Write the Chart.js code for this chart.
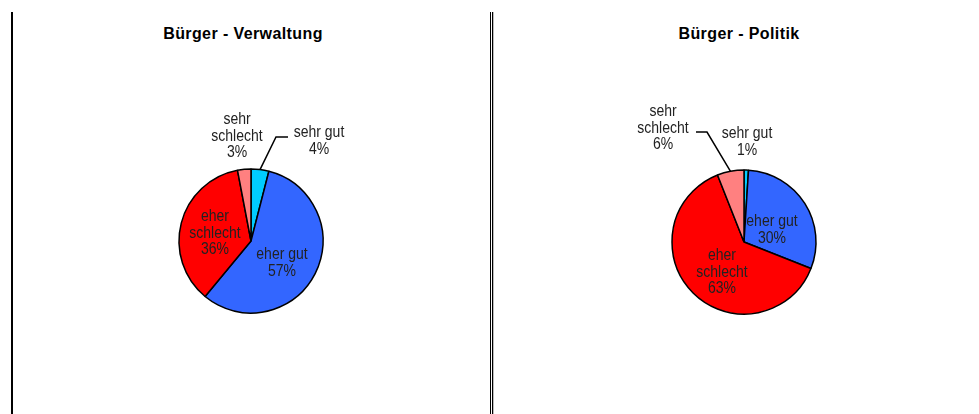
<!DOCTYPE html>
<html>
<head>
<meta charset="utf-8">
<script src="https://cdn.jsdelivr.net/npm/chart.js@4"></script>
<style>
  html, body { margin: 0; padding: 0; background: #fff; }
  #page { position: relative; width: 979px; height: 414px; overflow: hidden; }
  canvas { position: absolute; top: 0; }
  .rule { position: absolute; top: 12px; bottom: 0; background: #000; }
  .title {
    position: absolute; top: 26px; width: 300px; margin-left: -150px;
    text-align: center; font: bold 16px "Liberation Sans", Arial, sans-serif;
    line-height: 16px; letter-spacing: 0.4px; color: #000;
  }
</style>
</head>
<body>
<div id="page">
  <div class="rule" style="left:11px;width:2px"></div>
  <div class="rule" style="left:490px;width:1px"></div>
  <div class="rule" style="left:492px;width:1px"></div>
  <div class="rule" style="left:493px;width:1px;background:#bbb"></div>

  <div class="title" style="left:243px">Bürger - Verwaltung</div>
  <div class="title" style="left:739px">Bürger - Politik</div>

  <canvas id="verwaltung" width="474" height="414" style="left:14px"></canvas>
  <canvas id="politik" width="485" height="414" style="left:494px"></canvas>
</div>

<script>
// answer categories, each split into the lines shown on the label
const categories = [['sehr gut'], ['eher gut'], ['eher', 'schlecht'], ['sehr', 'schlecht']];
const verwaltungValues = [4, 57, 36, 3];
const politikValues = [1, 30, 63, 6];
const sliceColors = ['#00CCFF', '#3366FF', '#FF0000', '#FF8080'];

// where each label sits, relative to the pie centre; leader = [elbow, end]
const verwaltungLabels = [
  { dx: 68, dy: -100, leader: [[25, -104], [37, -104]] },
  { dx: 31, dy: 22 },
  { dx: -36, dy: -8 },
  { dx: -14, dy: -105 }
];
const politikLabels = [
  { dx: 3, dy: -100 },
  { dx: 28, dy: -12 },
  { dx: -22, dy: 30 },
  { dx: -81, dy: -114, leader: [[-37, -110], [-48, -110]] }
];

// draws the "name / value%" text for each slice plus optional leader lines
const sliceLabels = {
  id: 'sliceLabels',
  afterDatasetsDraw(chart, args, opts) {
    const ctx = chart.ctx;
    const meta = chart.getDatasetMeta(0);
    const values = chart.data.datasets[0].data;
    const lineH = 16.5;
    ctx.save();
    meta.data.forEach((arc, i) => {
      const spec = opts.layout[i];
      const cx = arc.x + spec.dx;
      const cy = arc.y + spec.dy;

      if (spec.leader) {
        const mid = (arc.startAngle + arc.endAngle) / 2;
        const r = arc.outerRadius;
        ctx.beginPath();
        ctx.moveTo(arc.x + r * Math.cos(mid), arc.y + r * Math.sin(mid));
        spec.leader.forEach(p => ctx.lineTo(arc.x + p[0], arc.y + p[1]));
        ctx.lineWidth = 1.5;
        ctx.strokeStyle = '#000';
        ctx.stroke();
      }

      const lines = chart.data.labels[i].concat([values[i] + '%']);
      ctx.font = '14px "Liberation Sans", Arial, sans-serif';
      ctx.fillStyle = '#222';
      ctx.textAlign = 'center';
      ctx.textBaseline = 'middle';
      lines.forEach((txt, k) => {
        const ly = cy + (k - (lines.length - 1) / 2) * lineH;
        ctx.save();
        ctx.translate(cx, ly);
        ctx.scale(1, 1.2);
        ctx.fillText(txt, 0, 0);
        ctx.restore();
      });
    });
    ctx.restore();
  }
};

function makePie(id, values, layout, padding) {
  new Chart(document.getElementById(id), {
    type: 'pie',
    data: {
      labels: categories,
      datasets: [{
        data: values,
        backgroundColor: sliceColors,
        borderColor: '#000',
        borderWidth: 1.5,
        radius: 72
      }]
    },
    options: {
      responsive: false,
      animation: false,
      events: [],
      layout: { padding: padding },
      plugins: {
        legend: { display: false },
        tooltip: { enabled: false },
        sliceLabels: { layout: layout }
      }
    },
    plugins: [sliceLabels]
  });
}

makePie('verwaltung', verwaltungValues, verwaltungLabels, { top: 68, left: 0, right: 0, bottom: 0 });
makePie('politik', politikValues, politikLabels, { top: 70, left: 15, right: 0, bottom: 0 });
</script>
</body>
</html>
